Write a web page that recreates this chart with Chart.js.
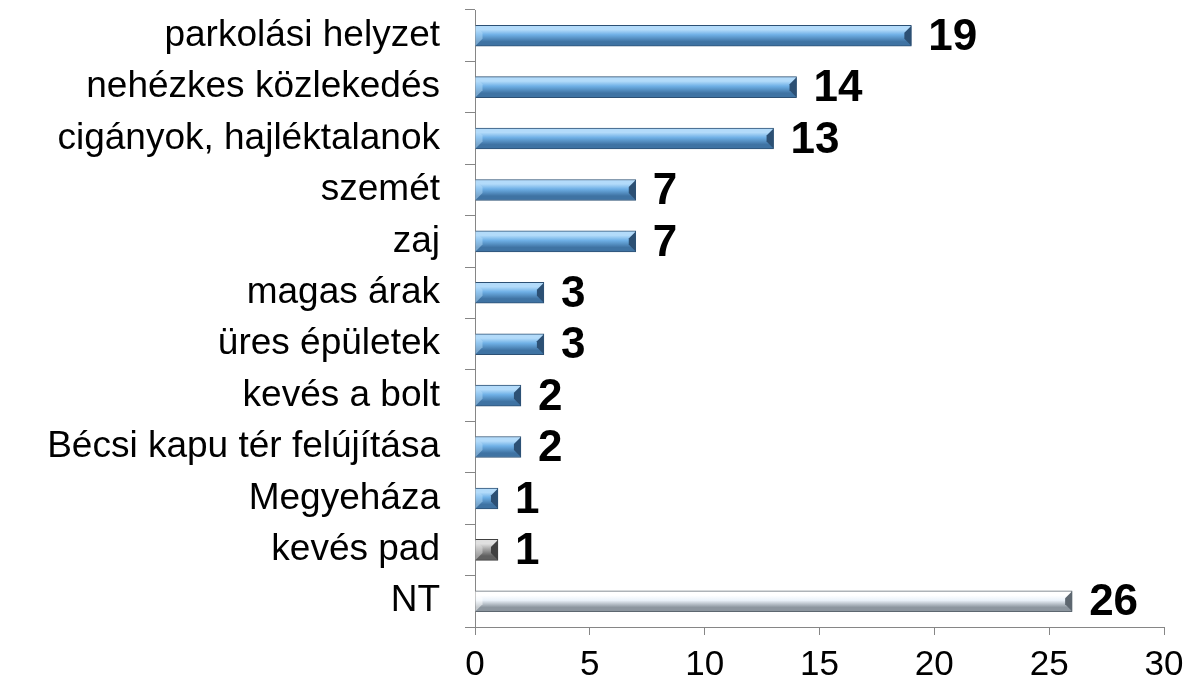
<!DOCTYPE html>
<html>
<head>
    <title>Problémák</title>
    <script src="https://cdn.jsdelivr.net/npm/chart.js"></script>
    <style>
        body { margin: 0; background: #fff; }
    </style>
</head>
<body>
    <canvas id="problemChart" width="1196" height="681"></canvas>

    <script>
        const categories = ['parkolási helyzet', 'nehézkes közlekedés', 'cigányok, hajléktalanok', 'szemét', 'zaj',
            'magas árak', 'üres épületek', 'kevés a bolt', 'Bécsi kapu tér felújítása', 'Megyeháza', 'kevés pad', 'NT'];
        const values = [19, 14, 13, 7, 7, 3, 3, 2, 2, 1, 1, 26];
        const barStyles = ['blue', 'blue', 'blue', 'blue', 'blue', 'blue', 'blue', 'blue', 'blue', 'blue', 'gray', 'white'];
        const xTicks = [0, 5, 10, 15, 20, 25, 30];

        const palettes = {
            blue:  { top: '#b3dbfa', mid: '#6fb0e6', bot: '#3f73a3', edge: '#2c5074' },
            gray:  { top: '#e0e0e0', mid: '#a8a8a8', bot: '#606060', edge: '#404040' },
            white: { top: '#ffffff', mid: '#eaf2fa', bot: '#8c969f', edge: '#5d6770' }
        };

        function barGradient(context) {
            const chart = context.chart;
            const yScale = chart.scales.y;
            const p = palettes[barStyles[context.dataIndex]] || palettes.blue;
            if (!yScale) return p.mid;
            const yc = yScale.getPixelForValue(context.dataIndex);
            if (!isFinite(yc)) return p.mid;
            const g = chart.ctx.createLinearGradient(0, yc - 10, 0, yc + 10);
            g.addColorStop(0, p.top);
            g.addColorStop(0.2, p.top);
            g.addColorStop(0.45, p.mid);
            g.addColorStop(0.8, p.bot);
            g.addColorStop(1, p.bot);
            return g;
        }

        // bevelled end caps + value labels
        const barExtras = {
            id: 'barExtras',
            afterDatasetsDraw(chart) {
                const ctx = chart.ctx;
                const meta = chart.getDatasetMeta(0);
                meta.data.forEach((bar, i) => {
                    const p = palettes[barStyles[i]];
                    const h = 10;
                    const x0 = bar.base, x1 = bar.x, y = bar.y;
                    const bevel = Math.min(7, (x1 - x0) / 2);
                    ctx.save();
                    ctx.fillStyle = p.edge;
                    ctx.beginPath();
                    ctx.moveTo(x1, y - h);
                    ctx.lineTo(x1, y + h);
                    ctx.lineTo(x1 - bevel, y + h - bevel);
                    ctx.lineTo(x1 - bevel, y - h + bevel);
                    ctx.closePath();
                    ctx.fill();
                    ctx.globalAlpha = 0.5;
                    ctx.fillStyle = p.top;
                    ctx.beginPath();
                    ctx.moveTo(x0, y - h);
                    ctx.lineTo(x0, y + h);
                    ctx.lineTo(x0 + bevel, y + h - bevel);
                    ctx.lineTo(x0 + bevel, y - h + bevel);
                    ctx.closePath();
                    ctx.fill();
                    ctx.restore();

                    ctx.save();
                    ctx.fillStyle = '#000';
                    ctx.font = 'bold 44px "Liberation Sans", Arial, sans-serif';
                    ctx.textBaseline = 'middle';
                    ctx.textAlign = 'left';
                    ctx.fillText(values[i], x1 + 17, y + 2);
                    ctx.restore();
                });
            }
        };

        const ctx = document.getElementById('problemChart').getContext('2d');
        const chart = new Chart(ctx, {
            type: 'bar',
            data: {
                labels: categories,
                datasets: [{
                    data: values,
                    backgroundColor: barGradient,
                    borderColor: (c) => (palettes[barStyles[c.dataIndex]] || palettes.blue).edge,
                    borderWidth: 1,
                    barThickness: 21
                }]
            },
            options: {
                indexAxis: 'y',
                responsive: false,
                animation: false,
                layout: { padding: { top: 10, right: 32, left: 0, bottom: 0 } },
                plugins: {
                    legend: { display: false },
                    tooltip: { enabled: false }
                },
                scales: {
                    x: {
                        min: 0,
                        max: 30,
                        afterBuildTicks: (scale) => { scale.ticks = xTicks.map(v => ({ value: v })); },
                        afterFit: (scale) => { scale.height = 54; },
                        grid: { drawOnChartArea: false, tickLength: 8, color: '#868686' },
                        border: { color: '#868686' },
                        ticks: {
                            color: '#000',
                            padding: 9,
                            font: { family: '"Liberation Sans", Arial, sans-serif', size: 35 }
                        }
                    },
                    y: {
                        afterFit: (scale) => {
                            scale.width = 475;
                            scale.paddingTop = 0;
                            scale.paddingBottom = 0;
                        },
                        grid: { drawOnChartArea: false, offset: true, tickLength: 10, color: '#868686' },
                        border: { color: '#868686' },
                        ticks: {
                            color: '#000',
                            padding: 25,
                            font: { family: '"Liberation Sans", Arial, sans-serif', size: 37 }
                        }
                    }
                }
            },
            plugins: [barExtras]
        });
    </script>
</body>
</html>
